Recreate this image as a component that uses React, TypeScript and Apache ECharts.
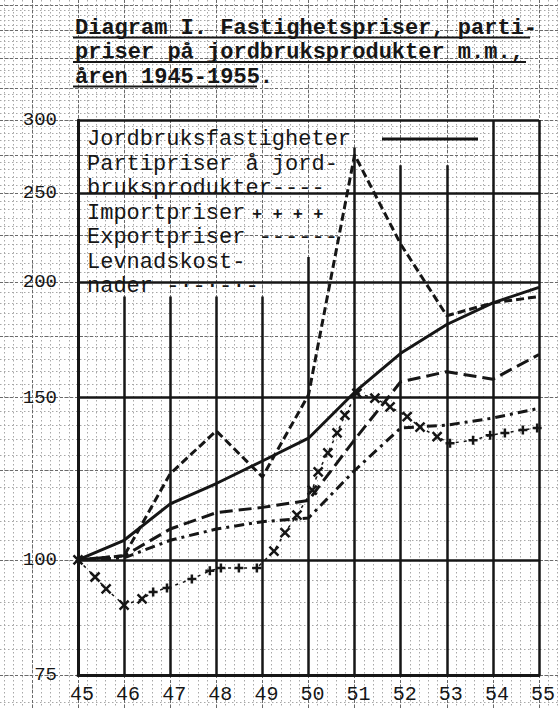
import React, { useEffect, useRef } from "react";
import * as echarts from "echarts";

// ---- data (index values, 1945 = 100) ----
const years = [45, 46, 47, 48, 49, 50, 51, 52, 53, 54, 55];
const jordbruksfastigheter = [100, 105, 115, 121, 128, 135.5, 152, 167.5, 180, 190, 197.5];
const partipriser = [100, 101, 108, 112.5, 114, 116, 135, 156, 160, 157, 167];
const exportpriser = [100, 101, 124, 138, 123, 151, 275, 220, 184, 190, 193];
const levnadskostnader = [100, 100.5, 105, 108, 110, 111, 125, 139, 140, 142.5, 146];
const importX = [45, 45.37, 45.61, 46, 46.39, 46.63, 46.93, 47.47, 47.86, 48.1, 48.49, 48.88, 49.25, 49.49, 49.75, 50.08, 50.21, 50.42, 50.62, 50.79, 51.05, 51.44, 51.77, 52.14, 52.42, 52.79, 53.07, 53.57, 53.94, 54.26, 54.65, 54.96];
const importV = [100, 95.8, 93, 89.3, 90.7, 92.3, 93.2, 95.3, 97.3, 98, 98, 98, 102.2, 107, 111.8, 119, 124.6, 130.6, 137.3, 143.5, 151.6, 149.8, 146.5, 143, 139.3, 136, 133.8, 134.8, 136.5, 137.3, 138.3, 139];
const importMark = ["x", "x", "x", "x", "x", "+", "+", "+", "+", "+", "+", "+", "x", "x", "x", "x", "x", "x", "x", "x", "x", "x", "x", "x", "x", "x", "+", "+", "+", "+", "+", "+"];
const yTickLabels = [75, 100, 150, 200, 250, 300];
const yearLineTops = [300, 193, 193, 193, 193, 213, 280, 268, 268, 300, 300];

const titleLines = [
  "Diagram I. Fastighetspriser, parti-",
  "priser på jordbruksprodukter m.m.,",
  "åren 1945-1955.",
];
const legendLines = [
  "Jordbruksfastigheter",
  "Partipriser å jord-",
  "bruksprodukter----",
  "Importpriser",
  "Exportpriser ------",
  "Levnadskost-",
  "nader -·-·-·-",
];

const L = (v: number) => Math.log10(v);
const INK = "#161616";
const MONO = '"Liberation Mono", "DejaVu Sans Mono", monospace';

// layout
const W = 559, H = 708;
const PL = 78, PR = 539, PT = 120, PB = 675;

const X_CROSS = "path://M0,0L10,10M10,0L0,10";
const PLUS = "path://M5,0L5,10M0,5L10,5";

export default function App() {
  const ref = useRef<HTMLDivElement>(null);
  useEffect(() => {
    if (!ref.current) return;
    const chart = echarts.init(ref.current, undefined, { renderer: "svg" });

    const perYear = 10 / (PR - PL);
    const pxMin = 45 - PL * perYear;
    const pxMax = 55 + (W - PR) * perYear;
    const perPxY = (L(300) - L(75)) / (PB - PT);
    const pyMin = L(75) - (H - PB) * perPxY;
    const pyMax = L(300) + PT * perPxY;

    const fineX: number[] = [];
    for (let k = Math.ceil(pxMin / 0.2); k <= Math.floor(pxMax / 0.2); k++) fineX.push(+(k * 0.2).toFixed(2));
    const coarseX: number[] = [];
    for (let k = Math.ceil(pxMin); k <= Math.floor(pxMax); k++) coarseX.push(k);
    const fineY: number[] = [];
    for (let v = 70; v <= 405; v += 5) fineY.push(L(v));
    const coarseY: number[] = [];
    for (let v = 75; v <= 400; v += 25) coarseY.push(L(v));

    const paperLine = { color: "#a8a8a8", width: 1, type: [1.5, 2.5] as any };
    const paperDark = { color: "#6a6a6a", width: 1, type: [3, 2] as any };

    const lineSeries = (name: string, vals: number[], type: any) => ({
      name,
      type: "line",
      xAxisIndex: 0,
      yAxisIndex: 0,
      data: years.map((y, i) => [y, L(vals[i])]),
      symbol: "none",
      lineStyle: { color: INK, width: 3, type },
      z: 5,
    });

    const graphics: any[] = [];
    titleLines.forEach((t, i) => {
      graphics.push({
        type: "text",
        x: 75,
        y: 28 + i * 24.5,
        z: 20,
        style: { text: t, font: `bold 22px ${MONO}`, fill: INK, verticalAlign: "middle" },
      });
    });
    [[73, 530], [73, 526], [73, 257]].forEach(([a, b], i) => {
      graphics.push({
        type: "line",
        z: 20,
        shape: { x1: a, y1: 37.5 + i * 24.5, x2: b, y2: 37.5 + i * 24.5 },
        style: { stroke: INK, lineWidth: 2 },
      });
    });
    legendLines.forEach((t, i) => {
      graphics.push({
        type: "text",
        x: 87,
        y: 139.5 + i * 24.5,
        z: 20,
        style: { text: t, font: `22px ${MONO}`, fill: INK, verticalAlign: "middle" },
      });
    });
    graphics.push({
      type: "text",
      x: 252,
      y: 139.5 + 3 * 24.5 + 1,
      z: 20,
      style: { text: "+ + + +", font: `bold 17px ${MONO}`, fill: INK, verticalAlign: "middle" },
    });
    graphics.push({
      type: "line",
      z: 20,
      shape: { x1: 382, y1: 139, x2: 478, y2: 139 },
      style: { stroke: INK, lineWidth: 3 },
    });

    chart.setOption({
      animation: false,
      backgroundColor: "#ffffff",
      grid: [
        { left: PL, top: PT, width: PR - PL, height: PB - PT, containLabel: false },
        { left: 0, top: 0, width: W, height: H, containLabel: false },
      ],
      xAxis: [
        {
          type: "value",
          gridIndex: 0,
          min: 45,
          max: 55,
          interval: 1,
          z: 3,
          axisLine: { show: true, lineStyle: { color: INK, width: 3 } },
          axisTick: { show: false },
          splitLine: { show: false },
          axisLabel: {
            color: INK,
            fontFamily: MONO,
            fontSize: 20,
            margin: 9,
            padding: [0, 0, 0, 8],
            formatter: (v: number) => String(Math.round(v)),
          },
        },
        {
          type: "value",
          gridIndex: 1,
          min: pxMin,
          max: pxMax,
          z: 0,
          axisLine: { show: false },
          axisTick: { show: false, customValues: fineX },
          axisLabel: { show: false },
          splitLine: { show: true, lineStyle: paperLine },
        },
        {
          type: "value",
          gridIndex: 1,
          position: "top",
          min: pxMin,
          max: pxMax,
          z: 0,
          axisLine: { show: false },
          axisTick: { show: false, customValues: coarseX },
          axisLabel: { show: false },
          splitLine: { show: true, lineStyle: paperDark },
        },
      ],
      yAxis: [
        {
          type: "value",
          gridIndex: 0,
          min: L(75),
          max: L(300),
          z: 3,
          axisLine: { show: true, lineStyle: { color: INK, width: 3 } },
          axisTick: { show: false, customValues: yTickLabels.map(L) },
          splitLine: { show: true, lineStyle: { color: INK, width: 2.5 } },
          axisLabel: {
            customValues: yTickLabels.map(L),
            color: INK,
            fontFamily: MONO,
            fontSize: 19,
            margin: 21,
            formatter: (v: number) => String(Math.round(Math.pow(10, v))),
          },
        },
        {
          type: "value",
          gridIndex: 1,
          min: pyMin,
          max: pyMax,
          z: 0,
          axisLine: { show: false },
          axisTick: { show: false, customValues: fineY },
          axisLabel: { show: false },
          splitLine: { show: true, lineStyle: paperLine },
        },
        {
          type: "value",
          gridIndex: 1,
          position: "right",
          min: pyMin,
          max: pyMax,
          z: 0,
          axisLine: { show: false },
          axisTick: { show: false, customValues: coarseY },
          axisLabel: { show: false },
          splitLine: { show: true, lineStyle: paperDark },
        },
      ],
      series: [
        {
          ...lineSeries("Jordbruksfastigheter", jordbruksfastigheter, "solid"),
          markLine: {
            silent: true,
            symbol: ["none", "none"],
            label: { show: false },
            lineStyle: { color: INK, width: 2.5, type: "solid" },
            data: years.map((y, i) => [
              { coord: [y, L(75)] },
              { coord: [y, L(yearLineTops[i])] },
            ]),
          },
        },
        lineSeries("Partipriser å jordbruksprodukter", partipriser, [13, 6]),
        lineSeries("Exportpriser", exportpriser, [8, 4]),
        lineSeries("Levnadskostnader", levnadskostnader, [10, 5, 3, 5]),
        {
          name: "Importpriser",
          type: "line",
          xAxisIndex: 0,
          yAxisIndex: 0,
          z: 6,
          data: importX.map((x, i) => ({
            value: [x, L(importV[i])],
            symbol: importMark[i] === "x" ? X_CROSS : PLUS,
          })),
          symbolSize: 9,
          showSymbol: true,
          itemStyle: { color: INK, borderColor: INK, borderWidth: 2.5 },
          lineStyle: { color: INK, width: 1.5, type: [3, 5] },
        },
      ],
      graphic: graphics,
    });

    return () => chart.dispose();
  }, []);

  return (
    <div
      ref={ref}
      style={{ position: "absolute", left: 0, top: 0, width: W, height: H }}
    />
  );
}
